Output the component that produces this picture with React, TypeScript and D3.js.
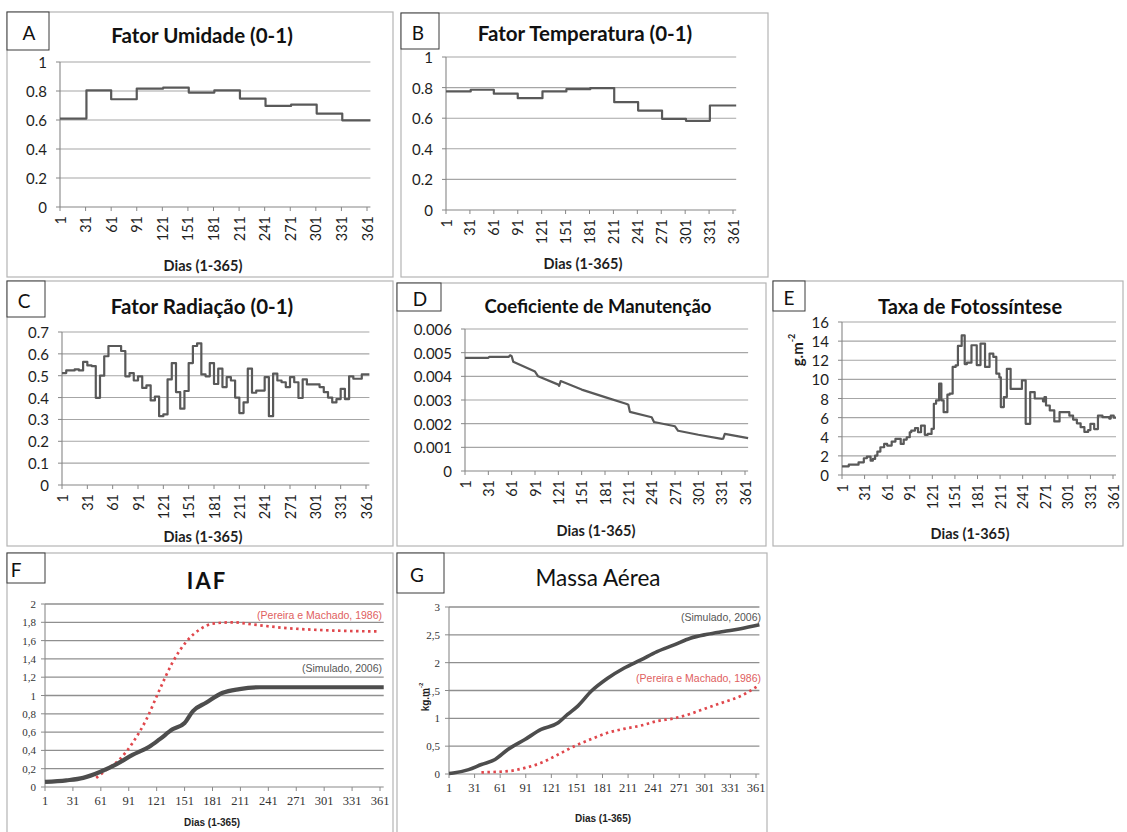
import React from "react";
import * as d3 from "d3";

// tick labels shared by every panel (days of the year)
const dayTicks = [1, 31, 61, 91, 121, 151, 181, 211, 241, 271, 301, 331, 361];

// A / B: monthly step factors
const monthStart = [1, 32, 61, 91, 122, 152, 182, 212, 242, 272, 302, 332, 365];
const umidade = [0.61, 0.805, 0.743, 0.817, 0.823, 0.789, 0.805, 0.748, 0.697, 0.706, 0.644, 0.598, 0.598];
const temperatura = [0.775, 0.786, 0.76, 0.731, 0.775, 0.79, 0.797, 0.705, 0.65, 0.596, 0.583, 0.683, 0.683];

// C: radiation factor, changes every few days
const radDays = [
  1, 6, 11, 16, 21, 26, 31, 36, 41, 46, 51, 56, 61, 66, 71, 76, 81, 86, 91, 96, 101, 106, 111, 116, 121, 126, 131,
  136, 141, 146, 151, 156, 161, 166, 171, 176, 181, 186, 191, 196, 201, 206, 211, 216, 221, 226, 231, 236, 241, 246,
  251, 256, 261, 266, 271, 276, 281, 286, 291, 296, 301, 306, 311, 316, 321, 326, 331, 336, 341, 346, 351, 356, 361, 365,
];
const radValues = [
  0.512, 0.524, 0.524, 0.529, 0.524, 0.563, 0.547, 0.544, 0.399, 0.5, 0.589, 0.636, 0.636, 0.636, 0.613, 0.497, 0.512,
  0.478, 0.497, 0.444, 0.456, 0.387, 0.405, 0.315, 0.323, 0.483, 0.558, 0.425, 0.349, 0.43, 0.558, 0.636, 0.648, 0.506,
  0.497, 0.558, 0.462, 0.532, 0.448, 0.494, 0.478, 0.4, 0.329, 0.378, 0.532, 0.422, 0.432, 0.432, 0.494, 0.315, 0.51,
  0.478, 0.47, 0.448, 0.494, 0.47, 0.398, 0.483, 0.46, 0.46, 0.46, 0.448, 0.425, 0.4, 0.378, 0.393, 0.44, 0.393, 0.497,
  0.486, 0.486, 0.506, 0.506, 0.506,
];

// D: maintenance coefficient
const manDays = [1, 31, 32, 57, 59, 61, 63, 91, 95, 121, 122, 124, 151, 181, 209, 211, 213, 241, 244, 271, 275, 301, 331, 333, 335, 365];
const manValues = [
  0.00478, 0.00478, 0.00482, 0.00482, 0.00489, 0.00485, 0.00462, 0.0042, 0.004, 0.00365, 0.0036, 0.0038, 0.00344,
  0.00312, 0.00283, 0.0028, 0.0025, 0.00227, 0.00207, 0.00189, 0.0017, 0.00153, 0.00136, 0.00137, 0.00157, 0.00139,
];

// E: photosynthesis rate (g.m-2)
const fotoDays = [
  1, 10, 23, 30, 34, 39, 42, 45, 48, 52, 57, 61, 67, 72, 79, 83, 87, 91, 93, 98, 102, 106, 111, 115, 120, 123, 126, 130,
  133, 136, 141, 144, 148, 152, 155, 160, 164, 167, 173, 180, 185, 191, 197, 202, 206, 210, 212, 216, 220, 225, 240, 245,
  251, 257, 268, 270, 272, 277, 283, 290, 303, 308, 313, 318, 323, 328, 331, 336, 341, 347, 356, 358, 362, 365,
];
const fotoValues = [
  0.91, 1.08, 1.33, 1.75, 1.92, 1.5, 1.68, 2.03, 2.45, 2.9, 3.25, 3.08, 3.5, 3.78, 3.25, 3.7, 3.95, 4.47, 4.65, 4.9,
  4.47, 5.17, 4.2, 4.3, 4.83, 7.45, 7.8, 9.55, 7.8, 6.57, 8.4, 8.5, 11.3, 11.47, 13.5, 14.6, 11.6, 11.75, 13.57, 11.5,
  13.74, 11.3, 12.7, 12.35, 10.6, 10.2, 7.1, 8.15, 11.1, 9.0, 9.9, 5.35, 8.67, 8.0, 7.7, 8.15, 7.27, 6.75, 5.6, 6.57,
  6.2, 5.8, 5.4, 5.0, 4.5, 4.7, 5.35, 4.8, 6.2, 6.05, 5.9, 6.2, 6.0, 6.0,
];

// F: IAF
const iafSimDays = [1, 24, 42, 60, 78, 95, 113, 124, 138, 151, 160, 174, 192, 210, 232, 365];
const iafSim = [0.055, 0.073, 0.1, 0.164, 0.25, 0.35, 0.44, 0.52, 0.63, 0.7, 0.83, 0.92, 1.03, 1.07, 1.09, 1.09];
const iafPerDays = [56, 70, 81, 95, 110, 124, 138, 153, 167, 181, 203, 225, 257, 311, 361];
const iafPer = [0.1, 0.21, 0.3, 0.48, 0.74, 1.06, 1.36, 1.59, 1.72, 1.785, 1.8, 1.775, 1.74, 1.71, 1.7];

// G: massa aérea (kg.m-2)
const massaSimDays = [1, 6, 24, 39, 55, 70, 90, 109, 129, 140, 152, 168, 187, 206, 226, 245, 265, 284, 304, 323, 343, 365];
const massaSim = [0.01, 0.018, 0.078, 0.17, 0.26, 0.44, 0.62, 0.8, 0.92, 1.07, 1.22, 1.49, 1.72, 1.9, 2.05, 2.2, 2.32, 2.44, 2.51, 2.56, 2.61, 2.68];
const massaPerDays = [39, 70, 90, 109, 129, 148, 168, 187, 206, 226, 245, 265, 284, 304, 323, 343, 362];
const massaPer = [0.03, 0.05, 0.11, 0.2, 0.35, 0.5, 0.63, 0.74, 0.81, 0.87, 0.95, 1.0, 1.08, 1.19, 1.29, 1.4, 1.57];

const FONT = "Lato, 'Open Sans', sans-serif";
const ARIAL = "'Liberation Sans', Arial, sans-serif";
const SERIF = "'Liberation Serif', serif";
const RED = "#e0474c";
const DARK = "#595959";

type Series = {
  days: number[];
  values: number[];
  curve: d3.CurveFactory;
  color: string;
  width: number;
  dash?: string;
};

type Note = { text: string; x: number; y: number; color: string };

type PanelCfg = {
  kind: "excel" | "scan";
  box: number[];
  labelBox: number[];
  letter: string;
  letterX: number;
  title: string;
  titlePos: number[];
  titleSize: number;
  titleWeight: number;
  titleSpacing?: number;
  xRange: number[];
  yRange: number[];
  yDomain: number[];
  yTicks: number[];
  fmt: (v: number) => string;
  xLabelPos: number[];
  series: Series[];
  yTitle?: { x: number; y: number; size: number };
  notes?: Note[];
};

const dot = (v: number) => String(v);
const comma = (v: number) => String(v).replace(".", ",");

function Panel({ cfg }: { cfg: PanelCfg }) {
  const x = d3.scaleLinear().domain([1, 361]).range(cfg.xRange);
  const y = d3.scaleLinear().domain(cfg.yDomain).range(cfg.yRange);
  const scan = cfg.kind === "scan";
  const left = cfg.xRange[0];
  const right = x(365);
  const base = y(cfg.yDomain[0]);
  const gridColor = scan ? "#8f8f8f" : "#a6a6a6";
  const axisColor = scan ? "#8a8a8a" : "#868686";
  const [bx0, by0, bx1, by1] = cfg.box;
  const [lx0, ly0, lx1, ly1] = cfg.labelBox;

  return (
    <g>
      <rect x={bx0} y={by0} width={bx1 - bx0} height={by1 - by0} fill="#fff" stroke="#b4b4b4" strokeWidth={1.2} />
      {cfg.yTicks.map((t) =>
        t === cfg.yDomain[0] ? null : (
          <line key={"g" + t} x1={left} x2={right} y1={y(t)} y2={y(t)} stroke={gridColor} strokeWidth={scan ? 1.3 : 1.1} />
        )
      )}
      <line x1={left} x2={left} y1={y(cfg.yDomain[1])} y2={base} stroke={axisColor} strokeWidth={1.1} />
      <line x1={left} x2={right} y1={base} y2={base} stroke={axisColor} strokeWidth={1.1} />
      {cfg.yTicks.map((t) => (
        <g key={"y" + t}>
          <line x1={left - 4} x2={left} y1={y(t)} y2={y(t)} stroke={axisColor} />
          <text
            x={left - (scan ? 9 : 13)}
            y={y(t)}
            textAnchor="end"
            dominantBaseline="central"
            fontFamily={scan ? SERIF : FONT}
            fontSize={scan ? 11 : 15}
            fill={scan ? "#333" : "#1e1e1e"}
          >
            {cfg.fmt(t)}
          </text>
        </g>
      ))}
      {dayTicks.map((d) => (
        <g key={"x" + d}>
          <line x1={x(d)} x2={x(d)} y1={base} y2={base + 4} stroke={axisColor} />
          {scan ? (
            <text x={x(d)} y={base + 18} textAnchor="middle" fontFamily={SERIF} fontSize={12.5} fill="#333">
              {d}
            </text>
          ) : (
            <text
              transform={`translate(${x(d)},${base + 9}) rotate(-90)`}
              textAnchor="end"
              dominantBaseline="central"
              fontFamily={FONT}
              fontSize={14.5}
              fill="#1e1e1e"
            >
              {d}
            </text>
          )}
        </g>
      ))}
      {cfg.series.map((s, i) => {
        const pts = s.days.map((d, k) => [d, s.values[k]] as [number, number]);
        const path = d3
          .line<[number, number]>()
          .x((p) => x(p[0]))
          .y((p) => y(p[1]))
          .curve(s.curve)(pts);
        return (
          <path
            key={"s" + i}
            d={path ?? ""}
            fill="none"
            stroke={s.color}
            strokeWidth={s.width}
            strokeDasharray={s.dash}
            strokeLinejoin="round"
          />
        );
      })}
      {(cfg.notes ?? []).map((n) => (
        <text key={n.text} x={n.x} y={n.y} textAnchor="end" fontFamily={ARIAL} fontSize={10.5} fill={n.color}>
          {n.text}
        </text>
      ))}
      {cfg.yTitle && (
        <text
          transform={`translate(${cfg.yTitle.x},${cfg.yTitle.y}) rotate(-90)`}
          textAnchor="middle"
          dominantBaseline="central"
          fontFamily={scan ? ARIAL : FONT}
          fontWeight={700}
          fontSize={cfg.yTitle.size}
          fill="#1e1e1e"
        >
          {cfg.kind === "scan" ? "kg.m" : "g.m"}
          <tspan fontSize={cfg.yTitle.size * 0.6} dy={-cfg.yTitle.size * 0.4}>
            -2
          </tspan>
        </text>
      )}
      <text
        x={cfg.titlePos[0]}
        y={cfg.titlePos[1]}
        textAnchor="middle"
        dominantBaseline="central"
        fontFamily={FONT}
        fontWeight={cfg.titleWeight}
        fontSize={cfg.titleSize}
        letterSpacing={cfg.titleSpacing ?? 0}
        fill="#111"
      >
        {cfg.title}
      </text>
      <text
        x={cfg.xLabelPos[0]}
        y={cfg.xLabelPos[1]}
        textAnchor="middle"
        dominantBaseline="central"
        fontFamily={scan ? ARIAL : FONT}
        fontWeight={700}
        fontSize={scan ? 10 : 14.5}
        fill="#1e1e1e"
      >
        Dias (1-365)
      </text>
      <rect x={lx0} y={ly0} width={lx1 - lx0} height={ly1 - ly0} fill="#fff" stroke="#3a3a3a" strokeWidth={1} />
      <text
        x={cfg.letterX}
        y={(ly0 + ly1) / 2 + 1}
        textAnchor="middle"
        dominantBaseline="central"
        fontFamily={FONT}
        fontSize={19}
        fill="#111"
      >
        {cfg.letter}
      </text>
    </g>
  );
}

const excelLine = (days: number[], values: number[], curve: d3.CurveFactory): Series => ({
  days,
  values,
  curve,
  color: DARK,
  width: 2.2,
});

const panels: PanelCfg[] = [
  {
    kind: "excel",
    box: [7, 12, 393, 277],
    labelBox: [7, 12, 49, 50],
    letter: "A",
    letterX: 29,
    title: "Fator Umidade (0-1)",
    titlePos: [202, 35],
    titleSize: 20.5,
    titleWeight: 700,
    xRange: [60, 367],
    yRange: [207, 62],
    yDomain: [0, 1],
    yTicks: [0, 0.2, 0.4, 0.6, 0.8, 1],
    fmt: dot,
    xLabelPos: [203, 265],
    series: [excelLine(monthStart, umidade, d3.curveStepAfter)],
  },
  {
    kind: "excel",
    box: [401, 13, 768, 277],
    labelBox: [401, 13, 439, 49],
    letter: "B",
    letterX: 418,
    title: "Fator Temperatura (0-1)",
    titlePos: [585, 33],
    titleSize: 20.5,
    titleWeight: 700,
    xRange: [446, 733],
    yRange: [210, 57],
    yDomain: [0, 1],
    yTicks: [0, 0.2, 0.4, 0.6, 0.8, 1],
    fmt: dot,
    xLabelPos: [583, 263],
    series: [excelLine(monthStart, temperatura, d3.curveStepAfter)],
  },
  {
    kind: "excel",
    box: [7, 281, 393, 546],
    labelBox: [7, 281, 45, 317],
    letter: "C",
    letterX: 24,
    title: "Fator Radiação (0-1)",
    titlePos: [202, 306],
    titleSize: 20.5,
    titleWeight: 700,
    xRange: [62, 366],
    yRange: [485, 332],
    yDomain: [0, 0.7],
    yTicks: [0, 0.1, 0.2, 0.3, 0.4, 0.5, 0.6, 0.7],
    fmt: dot,
    xLabelPos: [203, 536],
    series: [excelLine(radDays, radValues, d3.curveStepAfter)],
  },
  {
    kind: "excel",
    box: [397, 283, 766, 546],
    labelBox: [397, 283, 441, 311],
    letter: "D",
    letterX: 420,
    title: "Coeficiente de Manutenção",
    titlePos: [598, 306],
    titleSize: 18.5,
    titleWeight: 700,
    xRange: [465, 745],
    yRange: [471, 329],
    yDomain: [0, 0.006],
    yTicks: [0, 0.001, 0.002, 0.003, 0.004, 0.005, 0.006],
    fmt: dot,
    xLabelPos: [596, 530],
    series: [excelLine(manDays, manValues, d3.curveLinear)],
  },
  {
    kind: "excel",
    box: [773, 281, 1123, 546],
    labelBox: [773, 281, 805, 311],
    letter: "E",
    letterX: 789,
    title: "Taxa de Fotossíntese",
    titlePos: [970, 306],
    titleSize: 20,
    titleWeight: 700,
    xRange: [842, 1113],
    yRange: [475, 322],
    yDomain: [0, 16],
    yTicks: [0, 2, 4, 6, 8, 10, 12, 14, 16],
    fmt: dot,
    xLabelPos: [970, 533],
    yTitle: { x: 797, y: 350, size: 15 },
    series: [excelLine(fotoDays, fotoValues, d3.curveStepAfter)],
  },
  {
    kind: "scan",
    box: [7, 553, 393, 845],
    labelBox: [7, 553, 45, 583],
    letter: "F",
    letterX: 16,
    title: "IAF",
    titlePos: [207, 580],
    titleSize: 22,
    titleWeight: 700,
    titleSpacing: 2,
    xRange: [45, 380],
    yRange: [787, 604],
    yDomain: [0, 2],
    yTicks: [0, 0.2, 0.4, 0.6, 0.8, 1, 1.2, 1.4, 1.6, 1.8, 2],
    fmt: comma,
    xLabelPos: [212, 822],
    series: [
      { days: iafPerDays, values: iafPer, curve: d3.curveMonotoneX, color: RED, width: 2.7, dash: "2.5 3.5" },
      { days: iafSimDays, values: iafSim, curve: d3.curveMonotoneX, color: "#4d4d4d", width: 4.2 },
    ],
    notes: [
      { text: "(Pereira e Machado, 1986)", x: 382, y: 619, color: "#e06060" },
      { text: "(Simulado, 2006)", x: 382, y: 672, color: "#555" },
    ],
  },
  {
    kind: "scan",
    box: [397, 553, 767, 845],
    labelBox: [397, 553, 444, 593],
    letter: "G",
    letterX: 417,
    title: "Massa Aérea",
    titlePos: [598, 577],
    titleSize: 22.5,
    titleWeight: 400,
    xRange: [449, 756],
    yRange: [774, 607],
    yDomain: [0, 3],
    yTicks: [0, 0.5, 1, 1.5, 2, 2.5, 3],
    fmt: comma,
    xLabelPos: [603, 818],
    yTitle: { x: 425, y: 697, size: 10 },
    series: [
      { days: massaPerDays, values: massaPer, curve: d3.curveMonotoneX, color: RED, width: 2.7, dash: "2.5 3.5" },
      { days: massaSimDays, values: massaSim, curve: d3.curveMonotoneX, color: "#4d4d4d", width: 3.6 },
    ],
    notes: [
      { text: "(Simulado, 2006)", x: 761, y: 621, color: "#555" },
      { text: "(Pereira e Machado, 1986)", x: 761, y: 682, color: "#e06060" },
    ],
  },
];

export default function App() {
  return (
    <div style={{ position: "absolute", left: 0, top: 0 }}>
      <svg width={1127} height={832} style={{ display: "block", background: "#fff" }}>
        {panels.map((p) => (
          <Panel key={p.letter} cfg={p} />
        ))}
      </svg>
    </div>
  );
}
